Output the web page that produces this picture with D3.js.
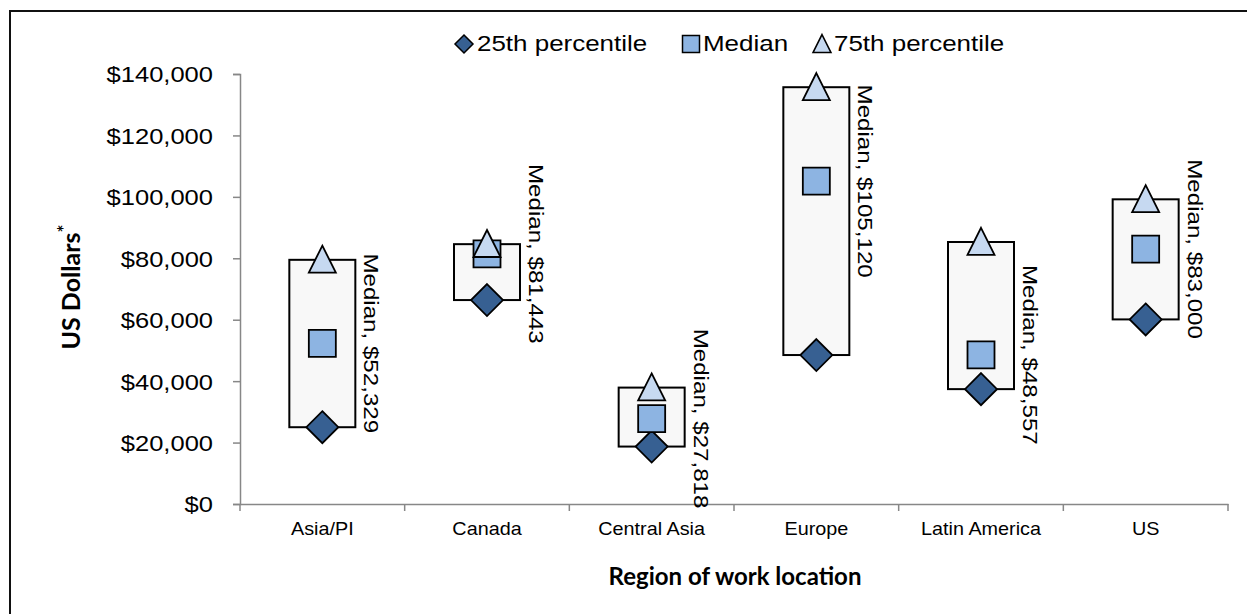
<!DOCTYPE html>
<html>
<head>
<meta charset="utf-8">
<script src="https://cdn.jsdelivr.net/npm/d3@7"></script>
<style>
  body { margin: 0; background: #fff; }
  svg { display: block; }
</style>
</head>
<body>
<div id="chart"></div>
<script>
// chart values
const regions = ["Asia/PI", "Canada", "Central Asia", "Europe", "Latin America", "US"];
const p25 = [25000, 66400, 18700, 48500, 37400, 60100];
const median = [52329, 81443, 27818, 105120, 48557, 83000];
const p75 = [79500, 84600, 37900, 135700, 85300, 99200];
const yTicks = [0, 20000, 40000, 60000, 80000, 100000, 120000, 140000];
const legendLabels = ["25th percentile", "Median", "75th percentile"];

const width = 1247, height = 614;
const colDiamond = "#376092", colSquare = "#8db4e2", colTriangle = "#c6d9f1";
const font = "'Liberation Sans', Arial, sans-serif";

const svg = d3.select("#chart").append("svg")
    .attr("width", width)
    .attr("height", height);

// outer frame
svg.append("rect")
    .attr("x", 10).attr("y", 11)
    .attr("width", 1260).attr("height", 640)
    .attr("fill", "none")
    .attr("stroke", "#111")
    .attr("stroke-width", 2);

const x = d3.scaleBand().domain(regions).range([240, 1228]);
const y = d3.scaleLinear().domain([0, 140000]).range([504, 74]);

// y axis
const yAxis = svg.append("g")
    .attr("transform", "translate(240,0)")
    .call(d3.axisLeft(y).tickValues(yTicks).tickSize(7).tickFormat(d3.format("$,")));
yAxis.select(".domain").attr("stroke", "#878787").attr("stroke-width", 1.5);
yAxis.selectAll(".tick line").attr("stroke", "#878787").attr("stroke-width", 1.5);
yAxis.selectAll(".tick text")
    .attr("font-family", font)
    .attr("font-size", 22)
    .attr("fill", "#000")
    .attr("x", -27 / 1.16)
    .attr("dy", "0.36em")
    .attr("transform", "scale(1.16,1)");

// x axis (labels only, boundary ticks drawn below)
const xAxis = svg.append("g")
    .attr("transform", "translate(0,504)")
    .call(d3.axisBottom(x).tickSize(0).tickSizeOuter(0));
xAxis.select(".domain").attr("stroke", "#878787").attr("stroke-width", 1.5);
xAxis.selectAll(".tick text")
    .attr("font-family", font)
    .attr("font-size", 18)
    .attr("fill", "#000")
    .attr("y", 31)
    .attr("dy", 0)
    .attr("transform", "scale(1.1,1)");

const bounds = regions.map(r => x(r)).concat([x.range()[1]]);
svg.append("g").selectAll("line")
    .data(bounds)
    .enter().append("line")
    .attr("x1", d => d).attr("x2", d => d)
    .attr("y1", 504).attr("y2", 511)
    .attr("stroke", "#878787")
    .attr("stroke-width", 1.5);

// boxes and markers
const rows = regions.map((r, i) => ({ region: r, p25: p25[i], median: median[i], p75: p75[i] }));
const cx = d => x(d.region) + x.bandwidth() / 2;
const boxW = 66;

const plot = svg.append("g");

plot.selectAll("rect.box")
    .data(rows)
    .enter().append("rect")
    .attr("class", "box")
    .attr("x", d => cx(d) - boxW / 2)
    .attr("y", d => y(d.p75))
    .attr("width", boxW)
    .attr("height", d => y(d.p25) - y(d.p75))
    .attr("fill", "#f8f8f8")
    .attr("stroke", "#000")
    .attr("stroke-width", 2);

const diamondPath = s => `M0,${-s}L${s},0L0,${s}L${-s},0Z`;
const squarePath = s => `M${-s},${-s}H${s}V${s}H${-s}Z`;
const trianglePath = s => `M0,${-s * 1.05}L${s},${s * 0.95}L${-s},${s * 0.95}Z`;

plot.selectAll("path.p25")
    .data(rows)
    .enter().append("path")
    .attr("class", "p25")
    .attr("d", diamondPath(16))
    .attr("transform", d => `translate(${cx(d)},${y(d.p25)})`)
    .attr("fill", colDiamond)
    .attr("stroke", "#000")
    .attr("stroke-width", 1.8);

plot.selectAll("path.med")
    .data(rows)
    .enter().append("path")
    .attr("class", "med")
    .attr("d", squarePath(13.5))
    .attr("transform", d => `translate(${cx(d)},${y(d.median)})`)
    .attr("fill", colSquare)
    .attr("stroke", "#000")
    .attr("stroke-width", 1.8);

plot.selectAll("path.p75")
    .data(rows)
    .enter().append("path")
    .attr("class", "p75")
    .attr("d", trianglePath(13.5))
    .attr("transform", d => `translate(${cx(d)},${y(d.p75)})`)
    .attr("fill", colTriangle)
    .attr("stroke", "#000")
    .attr("stroke-width", 1.8);

// median labels (rotated)
plot.selectAll("text.lab")
    .data(rows)
    .enter().append("text")
    .attr("class", "lab")
    .attr("transform", d => `translate(${cx(d) + 42},${y(d.median)}) rotate(90) scale(1.15,1)`)
    .attr("text-anchor", "middle")
    .attr("font-family", font)
    .attr("font-size", 21)
    .text(d => "Median, " + d3.format("$,")(d.median));

// axis titles
svg.append("text")
    .attr("transform", "translate(80,287) rotate(-90)")
    .attr("text-anchor", "middle")
    .attr("font-family", "Lato, sans-serif")
    .attr("font-weight", 700)
    .attr("font-size", 25)
    .text("US Dollars")
    .append("tspan")
    .attr("dy", -9)
    .attr("font-size", 19)
    .text("*");

svg.append("text")
    .attr("x", 735).attr("y", 585)
    .attr("text-anchor", "middle")
    .attr("font-family", "Lato, sans-serif")
    .attr("font-weight", 700)
    .attr("font-size", 24)
    .text("Region of work location");

// legend
const legendItems = [
    { label: legendLabels[0], path: diamondPath(9), fill: colDiamond, mx: 464, tx: 477 },
    { label: legendLabels[1], path: squarePath(8.5), fill: colSquare, mx: 691, tx: 703 },
    { label: legendLabels[2], path: trianglePath(9), fill: colTriangle, mx: 822, tx: 834 }
];
const legend = svg.append("g").selectAll("g")
    .data(legendItems)
    .enter().append("g");
legend.append("path")
    .attr("d", d => d.path)
    .attr("transform", d => `translate(${d.mx},44)`)
    .attr("fill", d => d.fill)
    .attr("stroke", "#000")
    .attr("stroke-width", 1.5);
legend.append("text")
    .attr("transform", d => `translate(${d.tx},51) scale(1.18,1)`)
    .attr("font-family", font)
    .attr("font-size", 22)
    .text(d => d.label);
</script>
</body>
</html>
